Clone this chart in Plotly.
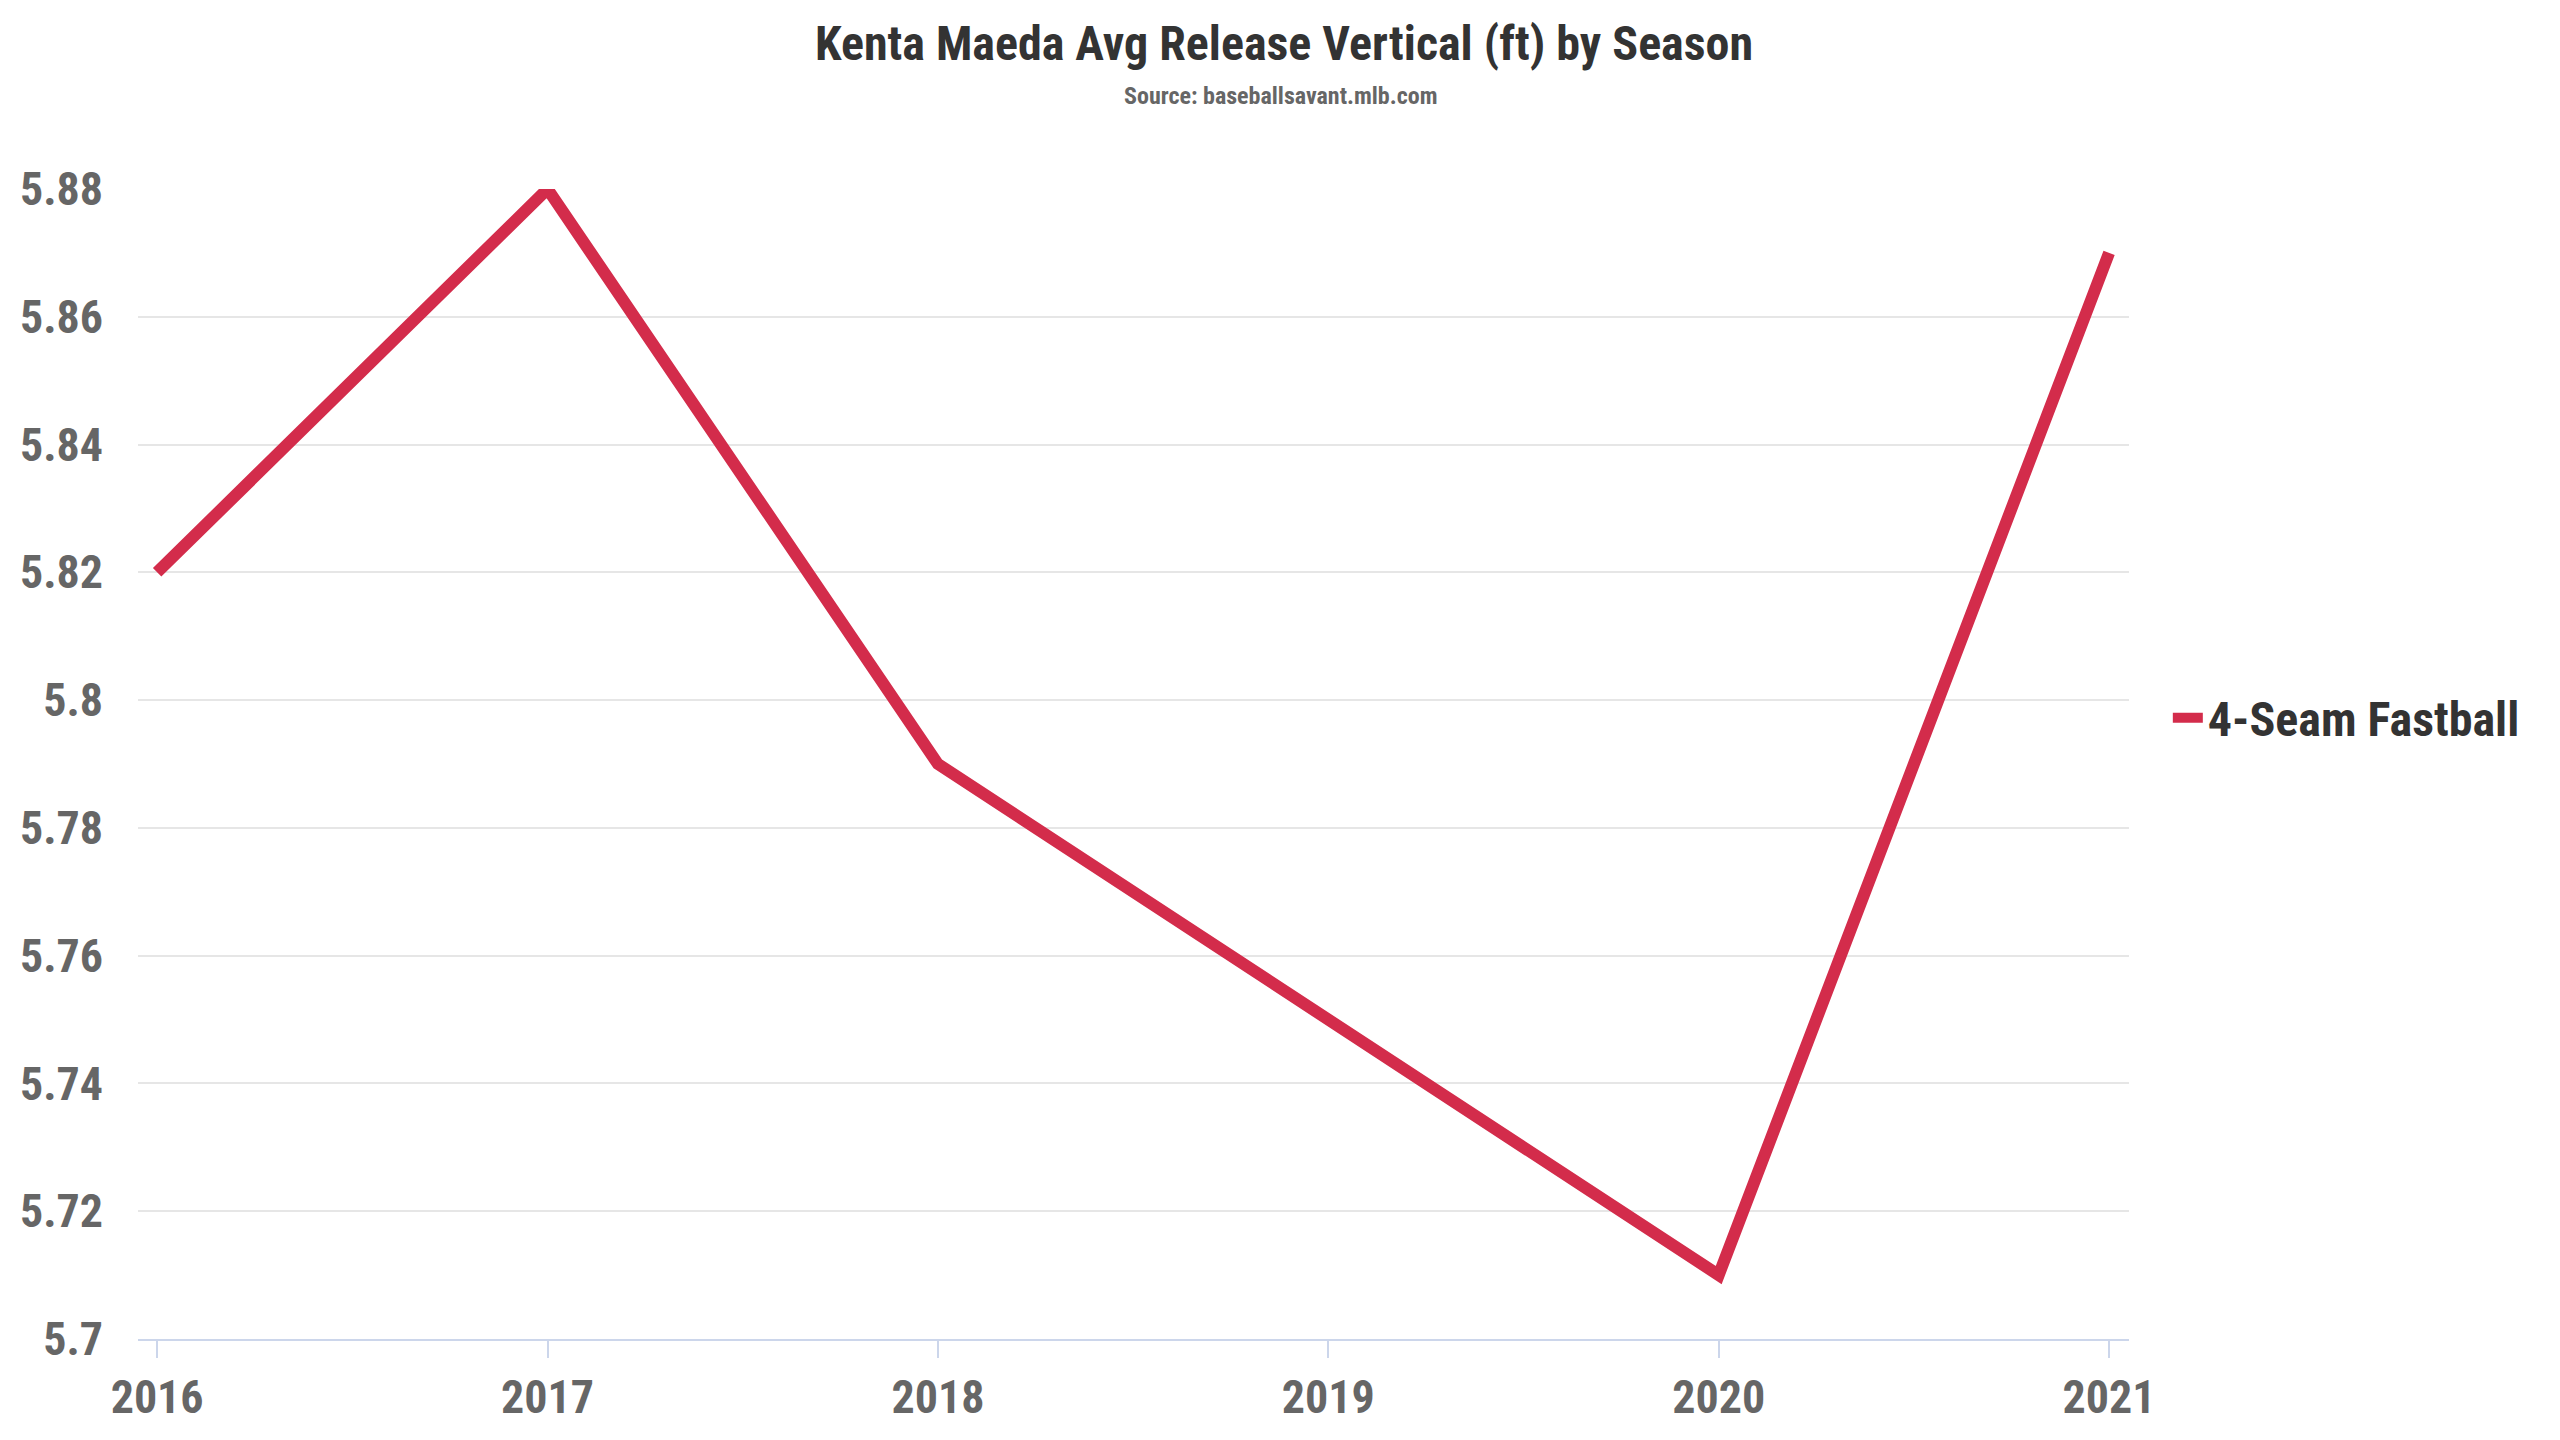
import plotly.graph_objects as go

# Kenta Maeda, 4-Seam Fastball, avg release height by season
seasons = [2016, 2017, 2018, 2019, 2020, 2021]
release_vertical = [5.82, 5.88, 5.79, 5.75, 5.71, 5.87]
y_ticks = [5.70, 5.72, 5.74, 5.76, 5.78, 5.80, 5.82, 5.84, 5.86, 5.88]
y_tick_labels = ["5.7", "5.72", "5.74", "5.76", "5.78", "5.8", "5.82", "5.84", "5.86", "5.88"]
series_name = "4-Seam Fastball"

FONT = "Roboto Condensed, Liberation Sans Narrow, DejaVu Sans Condensed, Roboto, sans-serif"

# page has an 8px body margin, so the figure is a bit smaller than the window
W, H = 2552, 1432

fig = go.Figure()
fig.add_trace(go.Scatter(x=seasons, y=release_vertical, name="<b>%s</b>" % series_name,
                         mode="lines", cliponaxis=False,
                         line=dict(color="#d32c4b", width=12)))

fig.update_layout(
    width=W, height=H,
    margin=dict(l=128, r=431, t=181, b=101),
    paper_bgcolor="white", plot_bgcolor="white",
    font=dict(family=FONT),
    title=dict(text="<b>Kenta Maeda Avg Release Vertical (ft) by Season</b>",
               x=0.5, xanchor="center", y=1 - 35 / H, yanchor="middle",
               font=dict(size=48, color="#333333", family=FONT)),
    showlegend=True,
    legend=dict(x=1.0195, xanchor="left", y=0.54, yanchor="middle",
                font=dict(size=48, color="#333333", family=FONT),
                borderwidth=0, bgcolor="rgba(0,0,0,0)"),
)

fig.add_annotation(text="<b>Source: baseballsavant.mlb.com</b>",
                   xref="paper", yref="paper", x=0.574, y=1.0813,
                   xanchor="center", yanchor="middle", showarrow=False,
                   font=dict(size=24, color="#666666", family=FONT))

fig.update_xaxes(range=[2015.951, 2021.051], tickvals=seasons,
                 ticktext=["<b>%d</b>" % s for s in seasons],
                 showgrid=False, zeroline=False,
                 showline=True, linecolor="#ccd6eb", linewidth=2,
                 ticks="outside", ticklen=17, tickwidth=2, tickcolor="#ccd6eb",
                 tickfont=dict(size=46, color="#666666", family=FONT))

fig.update_yaxes(range=[5.7, 5.88], tickvals=y_ticks,
                 ticktext=["<b>%s</b>" % t for t in y_tick_labels],
                 showgrid=True, gridcolor="#e6e6e6", gridwidth=2,
                 zeroline=False, showline=False, ticks="",
                 ticklabelstandoff=34,
                 tickfont=dict(size=46, color="#666666", family=FONT))

fig.write_html("out.html")
